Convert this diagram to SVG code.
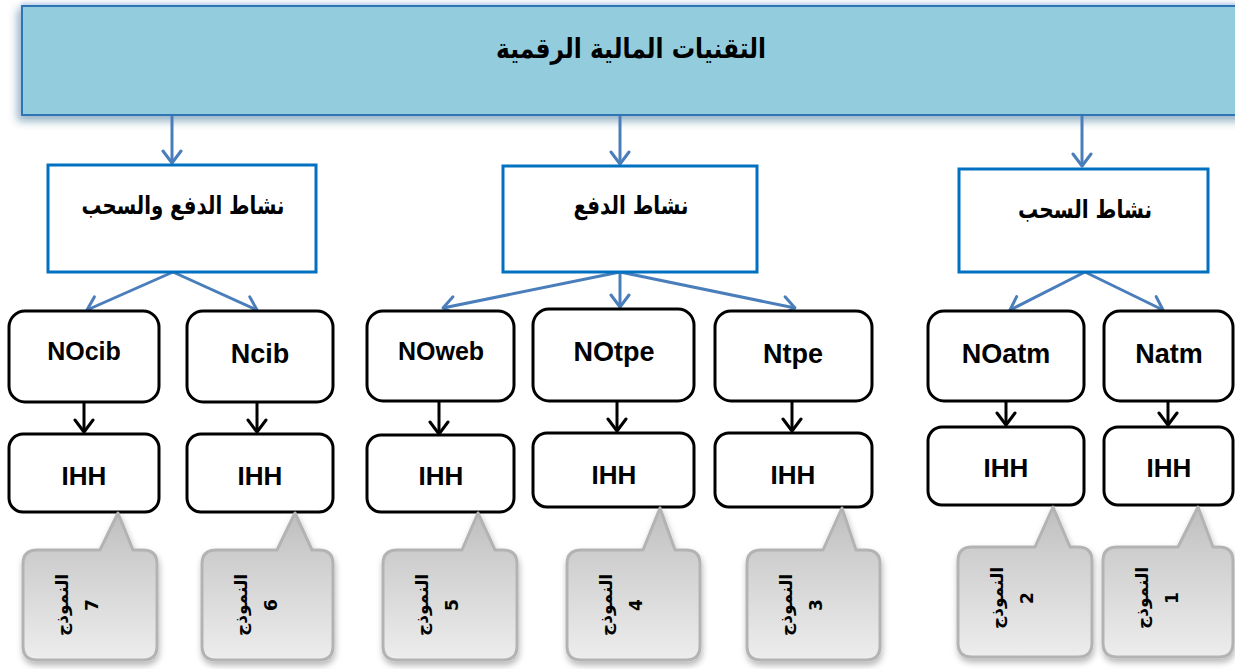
<svg xmlns="http://www.w3.org/2000/svg" width="1235" height="669" viewBox="0 0 1235 669">
<defs>
  <marker id="blueArrow" viewBox="0 0 16 22" refX="14" refY="11" markerWidth="16" markerHeight="22" markerUnits="userSpaceOnUse" orient="auto">
    <path d="M2,2 L14,11 L2,20" fill="none" stroke="#4A7EBB" stroke-width="3" stroke-linecap="round" stroke-linejoin="round"/>
  </marker>
  <marker id="blackArrow" viewBox="0 0 16 22" refX="14" refY="11" markerWidth="16" markerHeight="22" markerUnits="userSpaceOnUse" orient="auto">
    <path d="M2,2 L14,11 L2,20" fill="none" stroke="#000" stroke-width="3" stroke-linecap="round" stroke-linejoin="round"/>
  </marker>
  <linearGradient id="calloutGrad" x1="0" y1="0" x2="0" y2="1">
    <stop offset="0" stop-color="#bebebe"/>
    <stop offset="0.28" stop-color="#cdcdcd"/>
    <stop offset="1" stop-color="#ededed"/>
  </linearGradient>
  <filter id="bannerShadow" x="-5%" y="-20%" width="110%" height="150%">
    <feDropShadow dx="0" dy="-2" stdDeviation="2" flood-color="#7FA7D9" flood-opacity="0.5"/>
    <feDropShadow dx="-3" dy="5" stdDeviation="4" flood-color="#1F4E79" flood-opacity="0.45"/>
  </filter>
  <filter id="calloutShadow" x="-20%" y="-20%" width="140%" height="140%">
    <feDropShadow dx="1" dy="4" stdDeviation="3" flood-color="#000" flood-opacity="0.28"/>
  </filter>
  <style>
    .banner { fill: #93CDDD; stroke: #2F75B5; stroke-width: 2; }
    .lvl2 { fill: #fff; stroke: #0070C0; stroke-width: 3; }
    .rbox { fill: #fff; stroke: #000; stroke-width: 3; }
    .callout { fill: url(#calloutGrad); stroke: #b3b3b3; stroke-width: 3; stroke-linejoin: round; }
    .blue { fill: none; stroke: #4A7EBB; stroke-width: 3; marker-end: url(#blueArrow); }
    .black { fill: none; stroke: #000; stroke-width: 3; marker-end: url(#blackArrow); }
    .ar { font-family: "DejaVu Sans", "Liberation Sans", sans-serif; font-weight: bold; fill: #000; text-anchor: middle; }
    .lat { font-family: "Liberation Sans", Arial, sans-serif; font-weight: bold; fill: #000; text-anchor: middle; }
    .ct { font-family: "DejaVu Sans", "Liberation Sans", sans-serif; font-weight: bold; fill: #000; text-anchor: middle; font-size: 17px; }
  </style>
</defs>

<g id="banner">
  <rect class="banner" x="22" y="6" width="1230" height="109" filter="url(#bannerShadow)"/>
  <text class="ar" x="631" y="58" font-size="28" direction="rtl" textLength="270" lengthAdjust="spacingAndGlyphs">التقنيات المالية الرقمية</text>
</g>

<g id="connectors">
  <path class="blue" d="M172,116 L172,163"/>
  <path class="blue" d="M620,116 L620,164"/>
  <path class="blue" d="M1082,116 L1082,166"/>
  <path class="blue" d="M173,272 L87,310"/>
  <path class="blue" d="M173,272 L257,310"/>
  <path class="blue" d="M620,272 L443,308"/>
  <path class="blue" d="M620,272 L620,307"/>
  <path class="blue" d="M620,272 L795,308"/>
  <path class="blue" d="M1085,272 L1010,310"/>
  <path class="blue" d="M1085,272 L1163,310"/>
  <path class="black" d="M84,403 L84,432"/>
  <path class="black" d="M257,403 L257,432"/>
  <path class="black" d="M439,402 L439,434"/>
  <path class="black" d="M617,402 L617,431"/>
  <path class="black" d="M792,402 L792,431"/>
  <path class="black" d="M1006,402 L1006,425"/>
  <path class="black" d="M1168,402 L1168,425"/>
</g>

<g id="node-pushpull">
  <rect class="lvl2" x="48" y="165" width="268" height="107"/>
  <text class="ar" x="183" y="214" font-size="25" direction="rtl" textLength="203" lengthAdjust="spacingAndGlyphs">نشاط الدفع والسحب</text>
</g>
<g id="node-push">
  <rect class="lvl2" x="503" y="166" width="254" height="106"/>
  <text class="ar" x="631" y="214" font-size="25" direction="rtl" textLength="115" lengthAdjust="spacingAndGlyphs">نشاط الدفع</text>
</g>
<g id="node-pull">
  <rect class="lvl2" x="959" y="169" width="249" height="103"/>
  <text class="ar" x="1085" y="218" font-size="25" direction="rtl" textLength="134" lengthAdjust="spacingAndGlyphs">نشاط السحب</text>
</g>

<g id="node-NOcib">
  <rect class="rbox" x="9" y="311" width="150" height="91" rx="16"/>
  <text class="lat" x="84" y="360" font-size="25">NOcib</text>
</g>
<g id="node-Ncib">
  <rect class="rbox" x="187" y="311" width="146" height="91" rx="16"/>
  <text class="lat" x="260" y="363" font-size="27">Ncib</text>
</g>
<g id="node-NOweb">
  <rect class="rbox" x="367" y="311" width="147" height="90" rx="16"/>
  <text class="lat" x="441" y="360" font-size="25">NOweb</text>
</g>
<g id="node-NOtpe">
  <rect class="rbox" x="533" y="309" width="161" height="92" rx="16"/>
  <text class="lat" x="614" y="361" font-size="27">NOtpe</text>
</g>
<g id="node-Ntpe">
  <rect class="rbox" x="715" y="311" width="157" height="90" rx="16"/>
  <text class="lat" x="793" y="363" font-size="27">Ntpe</text>
</g>
<g id="node-NOatm">
  <rect class="rbox" x="928" y="311" width="156" height="90" rx="16"/>
  <text class="lat" x="1006" y="363" font-size="27">NOatm</text>
</g>
<g id="node-Natm">
  <rect class="rbox" x="1104" y="311" width="129" height="90" rx="16"/>
  <text class="lat" x="1169" y="363" font-size="27">Natm</text>
</g>

<g id="node-IHH7">
  <rect class="rbox" x="9" y="434" width="150" height="78" rx="14"/>
  <text class="lat" x="84" y="485" font-size="26">IHH</text>
</g>
<g id="node-IHH6">
  <rect class="rbox" x="187" y="434" width="146" height="78" rx="14"/>
  <text class="lat" x="260" y="485" font-size="26">IHH</text>
</g>
<g id="node-IHH5">
  <rect class="rbox" x="367" y="435" width="147" height="77" rx="14"/>
  <text class="lat" x="441" y="485" font-size="26">IHH</text>
</g>
<g id="node-IHH4">
  <rect class="rbox" x="533" y="433" width="161" height="74" rx="14"/>
  <text class="lat" x="614" y="484" font-size="26">IHH</text>
</g>
<g id="node-IHH3">
  <rect class="rbox" x="715" y="433" width="157" height="74" rx="14"/>
  <text class="lat" x="793" y="484" font-size="26">IHH</text>
</g>
<g id="node-IHH2">
  <rect class="rbox" x="928" y="427" width="156" height="78" rx="14"/>
  <text class="lat" x="1006" y="477" font-size="26">IHH</text>
</g>
<g id="node-IHH1">
  <rect class="rbox" x="1104" y="427" width="129" height="78" rx="14"/>
  <text class="lat" x="1169" y="477" font-size="26">IHH</text>
</g>

<g id="callout-7">
  <path class="callout" filter="url(#calloutShadow)" d="M37,550 L100,550 L118,513 L133,550 L143,550 Q157,550 157,564 L157,646 Q157,660 143,660 L37,660 Q23,660 23,646 L23,564 Q23,550 37,550 Z"/>
  <text class="ct" transform="translate(23,605) rotate(-90)"><tspan x="0" y="45">النموذج</tspan><tspan x="0" y="75">7</tspan></text>
</g>
<g id="callout-6">
  <path class="callout" filter="url(#calloutShadow)" d="M216,550 L277,550 L295,513 L312,550 L319,550 Q333,550 333,564 L333,646 Q333,660 319,660 L216,660 Q202,660 202,646 L202,564 Q202,550 216,550 Z"/>
  <text class="ct" transform="translate(202,605) rotate(-90)"><tspan x="0" y="45">النموذج</tspan><tspan x="0" y="75">6</tspan></text>
</g>
<g id="callout-5">
  <path class="callout" filter="url(#calloutShadow)" d="M397,550 L462,550 L478,513 L495,550 L503,550 Q517,550 517,564 L517,646 Q517,660 503,660 L397,660 Q383,660 383,646 L383,564 Q383,550 397,550 Z"/>
  <text class="ct" transform="translate(383,605) rotate(-90)"><tspan x="0" y="45">النموذج</tspan><tspan x="0" y="75">5</tspan></text>
</g>
<g id="callout-4">
  <path class="callout" filter="url(#calloutShadow)" d="M581,550 L643,550 L660,508 L675,550 L686,550 Q700,550 700,564 L700,646 Q700,660 686,660 L581,660 Q567,660 567,646 L567,564 Q567,550 581,550 Z"/>
  <text class="ct" transform="translate(567,605) rotate(-90)"><tspan x="0" y="45">النموذج</tspan><tspan x="0" y="75">4</tspan></text>
</g>
<g id="callout-3">
  <path class="callout" filter="url(#calloutShadow)" d="M761,550 L823,550 L842,508 L856,550 L866,550 Q880,550 880,564 L880,646 Q880,660 866,660 L761,660 Q747,660 747,646 L747,564 Q747,550 761,550 Z"/>
  <text class="ct" transform="translate(747,605) rotate(-90)"><tspan x="0" y="45">النموذج</tspan><tspan x="0" y="75">3</tspan></text>
</g>
<g id="callout-2">
  <path class="callout" filter="url(#calloutShadow)" d="M972,547 L1035,547 L1053,507 L1070,547 L1078,547 Q1092,547 1092,561 L1092,643 Q1092,657 1078,657 L972,657 Q958,657 958,643 L958,561 Q958,547 972,547 Z"/>
  <text class="ct" transform="translate(958,598) rotate(-90)"><tspan x="0" y="45">النموذج</tspan><tspan x="0" y="75">2</tspan></text>
</g>
<g id="callout-1">
  <path class="callout" filter="url(#calloutShadow)" d="M1117,547 L1178,547 L1198,507 L1213,547 L1219,547 Q1233,547 1233,561 L1233,643 Q1233,657 1219,657 L1117,657 Q1103,657 1103,643 L1103,561 Q1103,547 1117,547 Z"/>
  <text class="ct" transform="translate(1103,598) rotate(-90)"><tspan x="0" y="45">النموذج</tspan><tspan x="0" y="75">1</tspan></text>
</g>
</svg>
